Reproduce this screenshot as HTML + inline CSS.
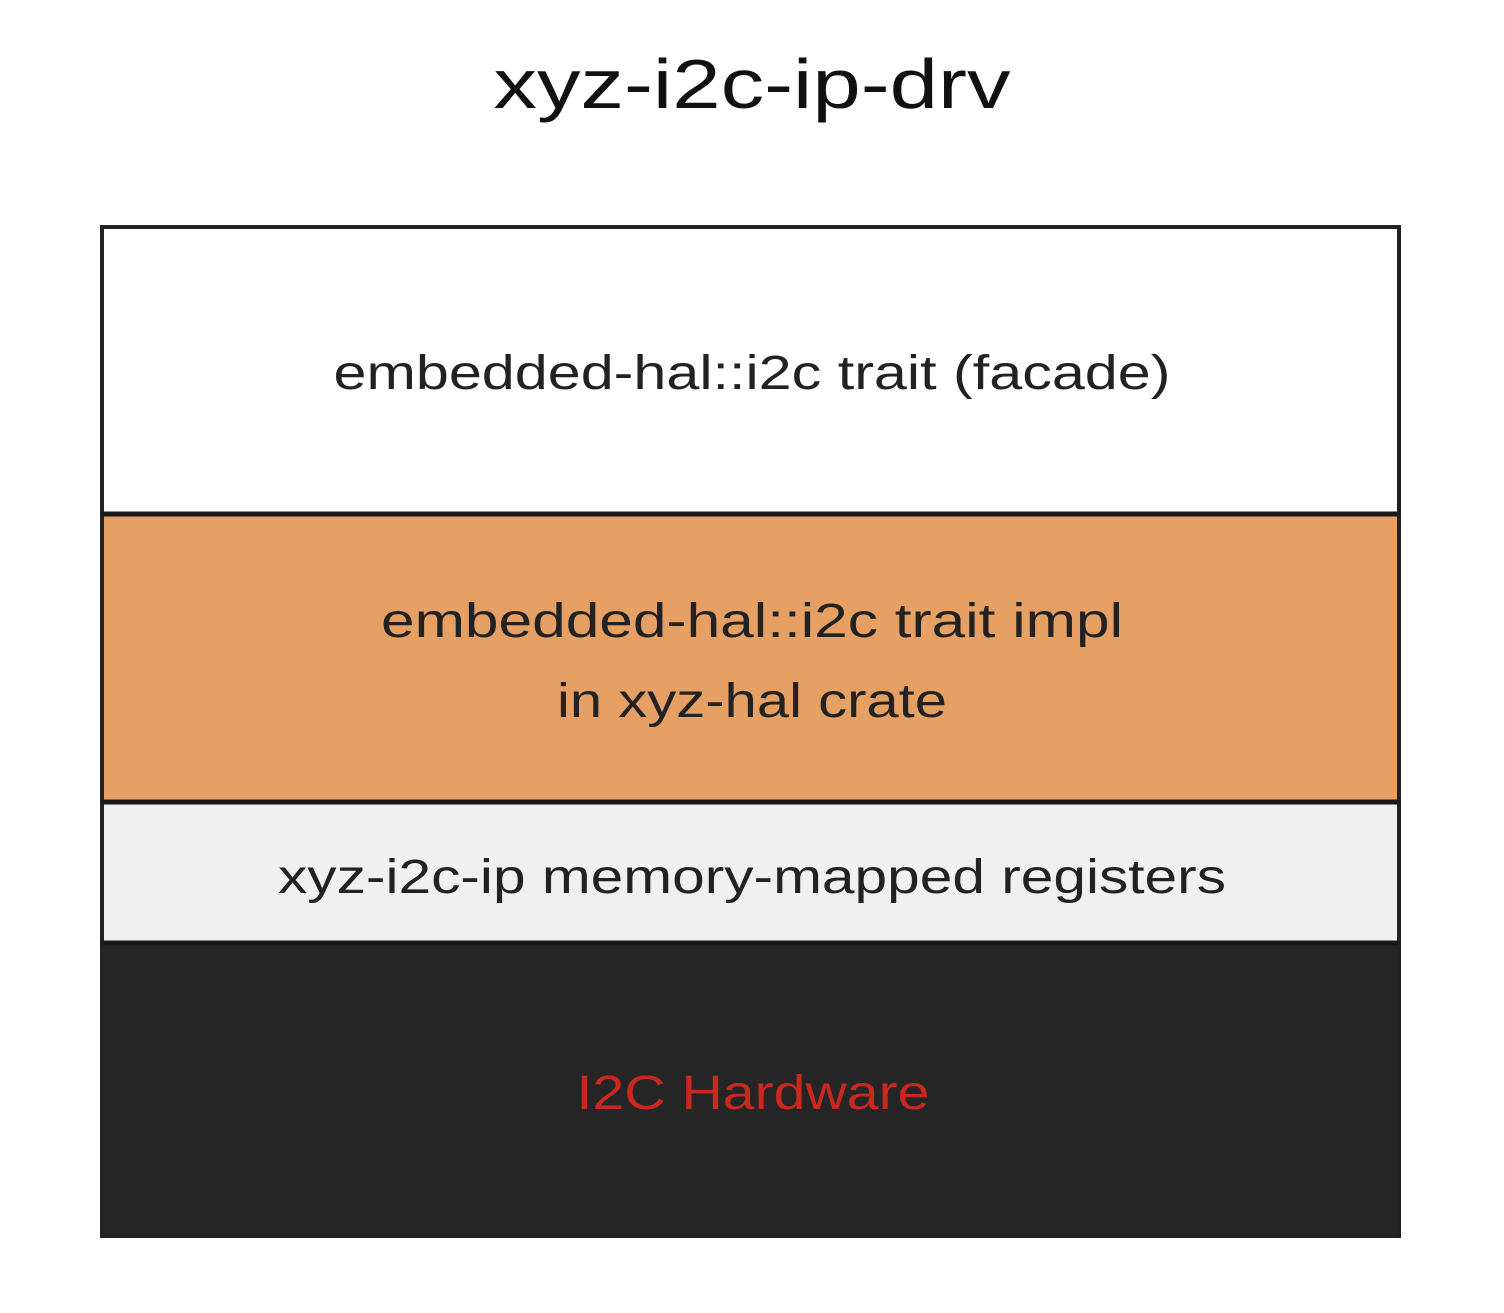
<!DOCTYPE html>
<html><head><style>html,body{margin:0;padding:0;background:#fff}</style></head>
<body>
<svg width="1504" height="1308" viewBox="0 0 1504 1308" xmlns="http://www.w3.org/2000/svg" font-family="'Liberation Sans', sans-serif">
<rect x="0" y="0" width="1504" height="1308" fill="#fff"/>
<text x="752" y="108" text-anchor="middle" font-size="70" fill="#111" textLength="517" lengthAdjust="spacingAndGlyphs">xyz-i2c-ip-drv</text>
<rect x="102" y="227" width="1297" height="287" fill="#fff"/>
<rect x="102" y="514" width="1297" height="289" fill="#e6a064"/>
<rect x="102" y="803" width="1297" height="140" fill="#f0f0f0"/>
<rect x="102" y="943" width="1297" height="293" fill="#252525"/>
<rect x="102" y="227" width="1297" height="1009" fill="none" stroke="#222" stroke-width="4"/>
<line x1="102" y1="514" x2="1399" y2="514" stroke="#1a1a1a" stroke-width="5"/>
<line x1="102" y1="802" x2="1399" y2="802" stroke="#1a1a1a" stroke-width="5"/>
<line x1="102" y1="943" x2="1399" y2="943" stroke="#1a1a1a" stroke-width="5"/>
<text x="752" y="389" text-anchor="middle" font-size="48" fill="#222" textLength="837" lengthAdjust="spacingAndGlyphs">embedded-hal::i2c trait (facade)</text>
<text x="752" y="637" text-anchor="middle" font-size="48" fill="#222" textLength="742" lengthAdjust="spacingAndGlyphs">embedded-hal::i2c trait impl</text>
<text x="752" y="717" text-anchor="middle" font-size="48" fill="#222" textLength="390" lengthAdjust="spacingAndGlyphs">in xyz-hal crate</text>
<text x="752" y="893" text-anchor="middle" font-size="48" fill="#222" textLength="948" lengthAdjust="spacingAndGlyphs">xyz-i2c-ip memory-mapped registers</text>
<text x="753" y="1109" text-anchor="middle" font-size="48" fill="#c8281e" textLength="353" lengthAdjust="spacingAndGlyphs">I2C Hardware</text>
</svg>
</body></html>
